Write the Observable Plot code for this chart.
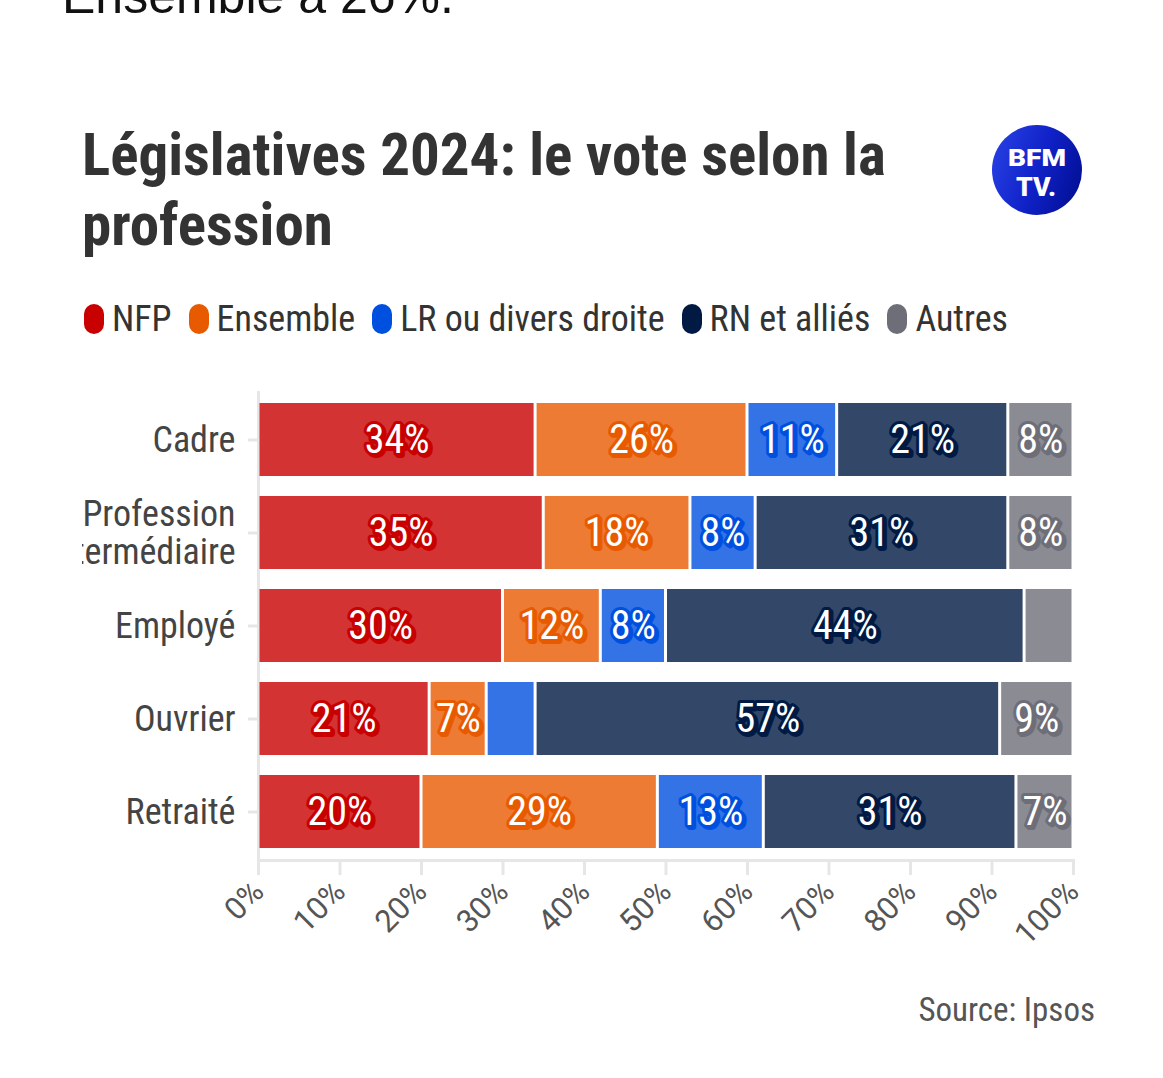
<!DOCTYPE html>
<html><head><meta charset="utf-8">
<script src="https://cdn.jsdelivr.net/npm/d3@7"></script>
<script src="https://cdn.jsdelivr.net/npm/@observablehq/plot@0.6"></script>
<style>
body{margin:0;background:#fff;}
#page{position:relative;width:1163px;height:1078px;overflow:hidden;background:#fff;
  font-family:"Roboto Condensed","DejaVu Sans Condensed",Roboto,sans-serif;}
#lead{position:absolute;left:62px;top:-34px;font-family:"Liberation Sans",Arial,sans-serif;font-size:50px;color:#111;white-space:nowrap;line-height:60px;}
#title{position:absolute;left:82px;top:120px;width:880px;font-size:59px;font-weight:700;color:#333;line-height:70px;letter-spacing:0px;}
#logo{position:absolute;left:992px;top:125px;width:90px;height:90px;border-radius:50%;
  background:linear-gradient(110deg,#2a44e6 0%,#1022c8 50%,#000c8c 100%);}
#logo svg{position:absolute;left:0;top:0;}
#legend{position:absolute;left:84px;top:298px;display:flex;align-items:center;font-size:36px;color:#333;white-space:nowrap;}
#legend .item{display:flex;align-items:center;margin-right:17px;}
#legend .sw{width:20px;height:30px;border-radius:10px;margin-right:8px;}
#chart{position:absolute;left:82px;top:372px;}
#source{position:absolute;right:68px;top:990px;font-size:33px;color:#555;}
</style></head><body><div id="page">
<div id="lead">Ensemble à 26%.</div>
<div id="title">Législatives 2024: le vote selon la profession</div>
<div id="logo"><svg width="90" height="90" viewBox="0 0 90 90">
  <text x="45" y="41" fill="#fff" font-family="Roboto, sans-serif" font-weight="900" font-size="24" text-anchor="middle" textLength="58" lengthAdjust="spacingAndGlyphs">BFM</text>
  <text x="44" y="71" fill="#fff" font-family="Roboto, sans-serif" font-weight="900" font-size="26" text-anchor="middle" textLength="40" lengthAdjust="spacingAndGlyphs">TV.</text>
</svg></div>
<div id="legend"></div>
<div id="chart"></div>
<div id="source">Source: Ipsos</div>
</div>
<script>
const professions = ["Cadre", "Profession intermédiaire", "Employé", "Ouvrier", "Retraité"];
const parties = ["NFP", "Ensemble", "LR ou divers droite", "RN et alliés", "Autres"];
const partyColors = ["#c80000", "#e85a00", "#0050e0", "#001a44", "#6e6e78"];
const nfp      = [34, 35, 30, 21, 20];
const ensemble = [26, 18, 12,  7, 29];
const lr       = [11,  8,  8,  6, 13];
const rn       = [21, 31, 44, 57, 31];
const autres   = [ 8,  8,  6,  9,  7];
const xTicks = [0, 10, 20, 30, 40, 50, 60, 70, 80, 90, 100];

const seriesByParty = [nfp, ensemble, lr, rn, autres];
const data = [];
professions.forEach((prof, i) => {
  parties.forEach((party, j) => data.push({prof, party, value: seriesByParty[j][i]}));
});

// legend
const legend = document.getElementById("legend");
parties.forEach((p, j) => {
  const it = document.createElement("div"); it.className = "item";
  const sw = document.createElement("div"); sw.className = "sw"; sw.style.background = partyColors[j];
  const tx = document.createElement("span"); tx.textContent = p;
  it.append(sw, tx); legend.append(it);
});

const font = '"Roboto Condensed","DejaVu Sans Condensed",Roboto,sans-serif';
const label = d => d.value >= 7 ? d.value + "%" : "";
const chart = Plot.plot({
  width: 1081,
  height: 600,
  marginLeft: 176,
  marginRight: 90,
  marginTop: 20,
  marginBottom: 112,
  style: {fontFamily: font, overflow: "hidden", background: "transparent"},
  x: {domain: [0, 100], axis: null},
  y: {domain: professions, paddingInner: 0.213, paddingOuter: 0.1, axis: null},
  color: {domain: parties, range: partyColors},
  marks: [
    Plot.frame({anchor: "left", stroke: "#e6e6e6", strokeWidth: 3}),
    Plot.frame({anchor: "bottom", stroke: "#e6e6e6", strokeWidth: 3}),
    Plot.axisY({label: null, tickSize: 10, tickPadding: 13, fontSize: 36, lineHeight: 1.06, stroke: "#e6e6e6", strokeWidth: 3, fill: "#444",
      tickFormat: d => d === "Profession intermédiaire" ? "Profession\nintermédiaire" : d}),
    Plot.axisX({label: null, ticks: xTicks, tickSize: 15, tickPadding: 11, tickRotate: -45, fontSize: 31, fontFamily: "Roboto, sans-serif",
      stroke: "#e6e6e6", strokeWidth: 3, fill: "#555", tickFormat: d => d + "%"}),
    Plot.barX(data, Plot.stackX({x: "value", y: "prof", fill: "party", fillOpacity: 0.8, insetLeft: 1.5, insetRight: 1.5})),
    Plot.text(data, Plot.stackX({x: "value", y: "prof", text: label, dx: 2, dy: 2,
      fill: "party", stroke: "party", strokeWidth: 6, strokeLinejoin: "round", fontSize: 40, fontWeight: 400})),
    Plot.text(data, Plot.stackX({x: "value", y: "prof", text: label,
      fill: "white", stroke: "party", strokeWidth: 6, strokeLinejoin: "round", fontSize: 40, fontWeight: 400}))
  ]
});
document.getElementById("chart").append(chart);
</script>
</body></html>
